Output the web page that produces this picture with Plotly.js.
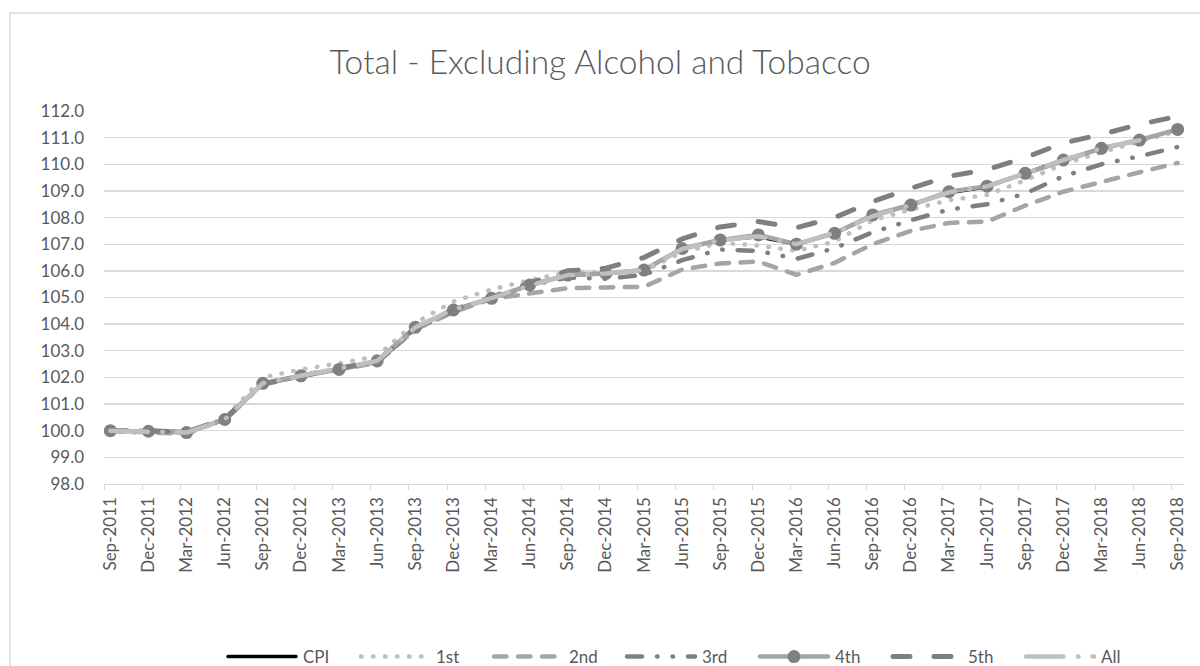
<!DOCTYPE html>
<html>
<head>
<meta charset="utf-8">
<script src="https://cdn.plot.ly/plotly-3.0.1.min.js"></script>
<style>
  html, body { margin: 0; padding: 0; background: #ffffff; }
  #chart { width: 1200px; height: 666px; }
  /* rounded dash ends, as in the office-style line series */
  #chart .scatterlayer path.js-line,
  #chart .legendlines path { stroke-linecap: round; stroke-linejoin: round; }
</style>
</head>
<body>
<div id="chart"></div>
<script>
// Quarterly index values, Sep-2011 = 100
const categories = ['Sep-2011','Dec-2011','Mar-2012','Jun-2012','Sep-2012','Dec-2012','Mar-2013','Jun-2013',
  'Sep-2013','Dec-2013','Mar-2014','Jun-2014','Sep-2014','Dec-2014','Mar-2015','Jun-2015','Sep-2015',
  'Dec-2015','Mar-2016','Jun-2016','Sep-2016','Dec-2016','Mar-2017','Jun-2017','Sep-2017','Dec-2017',
  'Mar-2018','Jun-2018','Sep-2018'];

const cpi = [100.0, 99.98, 99.93, 100.42, 101.78, 102.06, 102.30, 102.60, 103.88, 104.53, 104.98, 105.45,
  105.84, 105.88, 106.03, 106.84, 107.16, 107.28, 107.00, 107.42, 108.05, 108.50, 108.93, 109.16, 109.66,
  110.16, 110.60, 110.90, null];
const q1 = [100.0, 99.90, 99.95, 100.45, 102.00, 102.30, 102.53, 102.80, 104.05, 104.85, 105.30, 105.65,
  105.95, 105.95, 106.00, 106.70, 107.05, 106.95, 106.75, 107.10, 107.90, 108.30, 108.65, 108.85, 109.40,
  110.00, 110.45, 110.85, 111.25];
const q2 = [100.0, 99.95, 99.88, 100.45, 101.75, 102.05, 102.30, 102.55, 103.80, 104.45, 104.95, 105.15,
  105.35, 105.38, 105.40, 106.05, 106.28, 106.35, 105.85, 106.30, 107.00, 107.50, 107.80, 107.85, 108.45,
  108.97, 109.35, 109.70, 110.05];
const q3 = [100.0, 100.0, 99.95, 100.40, 101.75, 102.05, 102.30, 102.60, 103.80, 104.50, 104.95, 105.45,
  105.75, 105.70, 105.85, 106.40, 106.80, 106.75, 106.45, 106.85, 107.45, 107.90, 108.30, 108.50, 108.90,
  109.55, 110.00, 110.30, 110.65];
const q4 = [100.0, 99.98, 99.93, 100.42, 101.78, 102.06, 102.30, 102.62, 103.88, 104.53, 104.97, 105.47,
  105.84, 105.90, 106.03, 106.84, 107.16, 107.35, 107.00, 107.41, 108.10, 108.47, 108.97, 109.18, 109.66,
  110.16, 110.60, 110.91, 111.31];
const q5 = [100.0, 100.0, 99.95, 100.45, 101.75, 102.05, 102.35, 102.60, 103.85, 104.55, 105.00, 105.55,
  106.00, 106.10, 106.50, 107.20, 107.65, 107.85, 107.62, 108.00, 108.60, 109.10, 109.55, 109.80, 110.25,
  110.80, 111.12, 111.50, 111.80];
const allHh = [100.0, 99.98, 99.93, 100.42, 101.78, 102.06, 102.32, 102.62, 103.88, 104.55, 104.98, 105.45,
  105.84, 105.90, 106.03, 106.82, 107.15, 107.30, 107.00, 107.43, 108.05, 108.47, 108.95, 109.17, 109.66,
  110.16, 110.60, 110.90, null];

const seriesNames = ['CPI', '1st', '2nd', '3rd', '4th', '5th', 'All'];
const seriesValues = [cpi, q1, q2, q3, q4, q5, allHh];

const idx = categories.map((c, i) => i);

const styles = [
  { color: '#000000', width: 3.5, dash: 'solid' },
  { color: '#bfbfbf', width: 4.5, dash: '0.5px,11.5px' },
  { color: '#a5a5a5', width: 4.5, dash: '12.5px,11.5px' },
  { color: '#7f7f7f', width: 4.5, dash: '15px,15px,0.5px,15px,0.5px,15px' },
  { color: '#a5a5a5', width: 4.5, dash: 'solid' },
  { color: '#7f7f7f', width: 5, dash: '17px,24px' },
  { color: '#bfbfbf', width: 4.5, dash: '37.5px,14.5px,0.5px,14px' }
];

const traces = seriesNames.map((name, k) => {
  const t = {
    type: 'scatter',
    mode: name === '4th' ? 'lines+markers' : 'lines',
    name: name,
    x: idx,
    y: seriesValues[k],
    line: { color: styles[k].color, width: styles[k].width, dash: styles[k].dash },
    connectgaps: false,
    hoverinfo: 'skip'
  };
  if (name === '4th') {
    t.marker = { symbol: 'circle', size: 13, color: '#808080', line: { width: 0 } };
  }
  return t;
});

// quarter slots on a monthly base: tick marks sit half a month before each label
const slotTicks = idx.map(i => i - 1 / 6);

const layout = {
  width: 1200,
  height: 666,
  paper_bgcolor: '#ffffff',
  plot_bgcolor: '#ffffff',
  margin: { l: 104, r: 16, t: 111, b: 182, autoexpand: false },
  font: { family: 'Lato, "Open Sans", sans-serif', color: '#595959' },
  title: {
    text: 'Total - Excluding Alcohol and Tobacco',
    font: { size: 33.5, color: '#595959', family: 'Lato, sans-serif', weight: 300 },
    x: 0.5, xref: 'container', xanchor: 'center',
    y: 1 - 62 / 666, yref: 'container', yanchor: 'middle'
  },
  showlegend: true,
  legend: {
    orientation: 'h',
    x: (223 - 104) / 1080, xanchor: 'left',
    y: (484 - 657) / 373, yanchor: 'middle',
    font: { size: 17, color: '#595959' },
    itemwidth: 70,
    entrywidth: 48,
    bgcolor: 'rgba(0,0,0,0)',
    traceorder: 'normal'
  },
  xaxis: {
    range: [-1 / 6, 28 + 1 / 6],
    tickmode: 'array',
    tickvals: idx,
    ticktext: categories,
    tickangle: -90,
    ticks: '',
    ticklabelstandoff: 5,
    tickfont: { size: 17, color: '#595959' },
    showgrid: false,
    zeroline: false,
    showline: true,
    linecolor: '#d9d9d9',
    linewidth: 1.3,
    automargin: false,
    fixedrange: true,
    minor: {
      tickmode: 'array',
      tickvals: slotTicks,
      ticks: 'outside',
      ticklen: 5,
      tickcolor: '#d9d9d9',
      tickwidth: 1,
      showgrid: false
    }
  },
  yaxis: {
    range: [98, 112],
    tickmode: 'linear',
    tick0: 98,
    dtick: 1,
    tickformat: '.1f',
    ticks: '',
    ticklabelstandoff: 19,
    tickfont: { size: 17, color: '#595959' },
    showgrid: true,
    gridcolor: '#d9d9d9',
    gridwidth: 1.3,
    zeroline: false,
    showline: false,
    automargin: false,
    fixedrange: true
  },
  shapes: [
    {
      type: 'rect', xref: 'paper', yref: 'paper',
      x0: (10 - 104) / 1080, x1: (1215 - 104) / 1080,
      y0: (484 - 680) / 373, y1: (484 - 13) / 373,
      line: { color: '#d9d9d9', width: 1.3 },
      fillcolor: 'rgba(0,0,0,0)',
      layer: 'below'
    }
  ]
};

const gd = document.getElementById('chart');
Plotly.newPlot(gd, traces, layout, { staticPlot: true, displayModeBar: false }).then(function () {
  // longer legend samples so the dash patterns read clearly
  gd.querySelectorAll('.legend .legendlines path').forEach(function (p) {
    p.setAttribute('d', 'M5,0h68');
  });
  gd.querySelectorAll('.legend .legendpoints path.scatterpts').forEach(function (p) {
    p.setAttribute('transform', 'translate(39,0)');
  });
});
</script>
</body>
</html>
